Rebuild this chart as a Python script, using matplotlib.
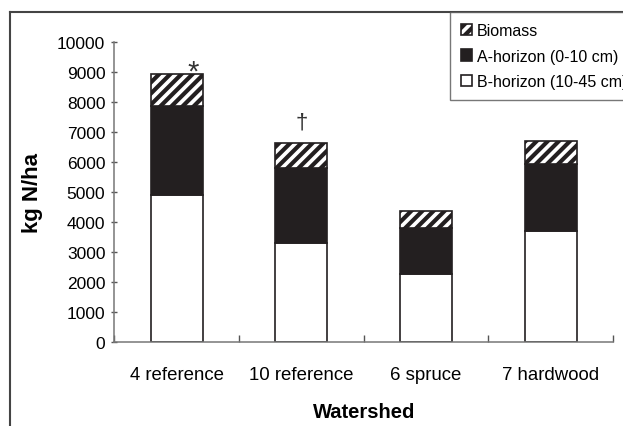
import matplotlib
matplotlib.use("Agg")
import matplotlib.pyplot as plt
from matplotlib.lines import Line2D
import numpy as np

# Nitrogen pools per watershed (kg N/ha)
watersheds = ["4 reference", "10 reference", "6 spruce", "7 hardwood"]
b_horizon = [4900, 3300, 2290, 3700]
a_horizon = [2980, 2500, 1510, 2250]
biomass = [1080, 850, 580, 750]
markers = ["*", "\u2020", "", ""]

plt.rcParams["font.family"] = ["Liberation Sans", "DejaVu Sans"]
plt.rcParams["hatch.linewidth"] = 3.0
plt.rcParams["hatch.color"] = "#231f20"

fig = plt.figure(figsize=(6.23, 4.27), dpi=100)
ax = fig.add_axes([114.4 / 623, 1 - 343.3 / 427, (613 - 114.4) / 623, 300 / 427])

x = np.arange(len(watersheds))
w = 0.417
edge = "#231f20"
b = np.array(b_horizon)
a = np.array(a_horizon)
bm = np.array(biomass)

ax.bar(x, b, w, color="white", edgecolor=edge, linewidth=1.2, label="B-horizon (10-45 cm)")
ax.bar(x, a, w, bottom=b, color=edge, edgecolor=edge, linewidth=1.2, label="A-horizon (0-10 cm)")
ax.bar(x, bm, w, bottom=b + a, color="white", edgecolor=edge, linewidth=1.2, hatch="///",
       label="Biomass")

# significance markers above the bars
tops = b + a + bm
ax.text(x[0] + 0.13, tops[0] + 60, markers[0], fontsize=21, ha="center", va="center",
        color="#333333")
ax.text(x[1], tops[1] + 350, markers[1], fontsize=16, ha="center", va="bottom",
        color="#333333")

ax.set_xlim(-0.5, len(watersheds) - 0.5)
ax.set_ylim(0, 10000)
ax.set_yticks(range(0, 10001, 1000))
ax.set_xticks(np.arange(-0.5, len(watersheds), 1.0))
ax.set_xticklabels([])
ax.set_xticks(x, minor=True)
ax.set_xticklabels(watersheds, minor=True)
ax.tick_params(axis="x", which="minor", length=0, pad=17, labelsize=13.4)
ax.tick_params(axis="x", which="major", length=5, direction="in", width=1, color="#555555")
ax.tick_params(axis="y", length=5, direction="inout", width=1, color="#555555", labelsize=12.5,
               pad=4)

for side in ["top", "right"]:
    ax.spines[side].set_visible(False)
for side in ["left", "bottom"]:
    ax.spines[side].set_color("#777777")
    ax.spines[side].set_linewidth(1.1)

ax.set_ylabel("kg N/ha", fontsize=16, fontweight="bold", labelpad=10)
ax.set_xlabel("Watershed", fontsize=14.5, fontweight="bold", labelpad=14)

handles, labels = ax.get_legend_handles_labels()
leg = fig.legend(handles[::-1], labels[::-1], loc="upper left",
                 bbox_to_anchor=(450 / 623, 1 - 13 / 427), fontsize=11.5, frameon=True,
                 fancybox=False, handlelength=0.7, handleheight=0.7, handletextpad=0.3,
                 labelspacing=0.65, borderpad=0.7, borderaxespad=0)
leg.get_frame().set_edgecolor("#555555")
leg.get_frame().set_linewidth(1.0)

# outer chart-area border (cut off at right and bottom)
fig.add_artist(Line2D([10 / 623, 10 / 623], [0, 1 - 13 / 427], color="#444444", lw=1.5))
fig.add_artist(Line2D([10 / 623, 1], [1 - 13 / 427, 1 - 13 / 427], color="#444444", lw=1.5))

fig.savefig("out.png", dpi=100)
